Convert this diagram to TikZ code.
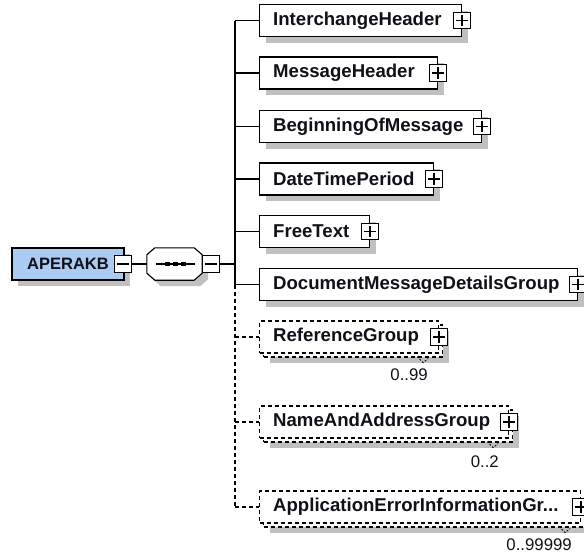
\documentclass[tikz,border=0pt]{standalone}
\usepackage{fontspec}
\setmainfont{Liberation Sans}
\usetikzlibrary{shadows}
\definecolor{rootblue}{HTML}{ABCBF3}
\definecolor{shadowgray}{HTML}{C0C0C0}
\definecolor{txt}{HTML}{101018}
\newcommand\octpathseq{([xshift=8pt]seq.north west) -- ([xshift=-8pt]seq.north east) -- ([yshift=-7pt]seq.north east) -- ([yshift=7pt]seq.south east) -- ([xshift=-8pt]seq.south east) -- ([xshift=8pt]seq.south west) -- ([yshift=7pt]seq.south west) -- ([yshift=-7pt]seq.north west) -- cycle}
\tikzset{
  sh/.style={drop shadow={shadow xshift=6pt, shadow yshift=-6pt, fill=shadowgray, opacity=1}},
  boxline/.style={draw=black, line width=1.1pt},
  optdash/.style={dash pattern=on 4pt off 3pt},
  elem/.style={boxline, fill=white, minimum height=32pt, inner sep=0pt, anchor=west, minimum width=#1},
  lbl/.style={anchor=west, inner sep=0pt, text=txt, font=\fontsize{18.6}{20}\selectfont\bfseries},
  card/.style={anchor=east, inner sep=0pt, text=txt, font=\fontsize{16.8}{18}\selectfont},
  expbox/.style={draw=black, fill=white, line width=1.2pt, minimum size=16.5pt, inner sep=0pt},
  plusbox/.style={expbox, path picture={
      \draw[line width=1.3pt] ([xshift=2.5pt]path picture bounding box.west) -- ([xshift=-2.5pt]path picture bounding box.east);
      \draw[line width=1.3pt] ([yshift=-2.5pt]path picture bounding box.north) -- ([yshift=2.5pt]path picture bounding box.south);}},
  minusbox/.style={expbox, path picture={
      \draw[line width=1.3pt] ([xshift=2.5pt]path picture bounding box.west) -- ([xshift=-2.5pt]path picture bounding box.east);}},
  conn/.style={draw=black, line width=1.1pt},
  notch/.style={draw=black, line width=0.8pt, dash pattern=on 2pt off 1.5pt},
}
\begin{document}
\begin{tikzpicture}[x=1pt,y=-1pt]
\useasboundingbox (0,0) rectangle (584,555);
\clip (0,0) rectangle (584,555);

% root element
\node[boxline, fill=rootblue, sh, minimum width=112pt, minimum height=32pt, inner sep=0pt,
      text=txt, font=\fontsize{16.5}{18}\selectfont\bfseries] (root) at (68,264) {APERAKB};
\node[minusbox] (rootX) at (123,264) {};

% sequence compositor (octagon)
\node[minimum width=55pt, minimum height=32pt, inner sep=0pt] (seq) at (174.5,264) {};
\begin{scope}[transform canvas={shift={(6pt,-6pt)}}]
  \fill[shadowgray] \octpathseq;
\end{scope}
\draw[boxline, fill=white] \octpathseq;
\draw[line width=1.2pt] ([xshift=-19pt]seq.center) -- ([xshift=20pt]seq.center);
\foreach \dx in {-7,1,9}{
  \fill[black] ([xshift=\dx pt]seq.center) +(-2.5pt,-2.3pt) rectangle +(2.5pt,2.3pt);
}
\node[minusbox] (seqX) at (211,264) {};

% bus
\coordinate (vtop) at (235,20.5);
\coordinate (vmid) at (235,284.5);
\coordinate (vbot) at (235,507);

% mandatory children
\node[elem=202pt, sh] (ih) at (259,20.5) {};
\node[lbl] (ihT) at ([xshift=14pt]ih.west) {InterchangeHeader};
\node[plusbox] (ihX) at (ih.east) {};

\node[elem=178pt, sh] (mh) at (259,73) {};
\node[lbl] (mhT) at ([xshift=14pt]mh.west) {MessageHeader};
\node[plusbox] (mhX) at (mh.east) {};

\node[elem=222pt, sh] (bom) at (259,126.5) {};
\node[lbl] (bomT) at ([xshift=14pt]bom.west) {BeginningOfMessage};
\node[plusbox] (bomX) at (bom.east) {};

\node[elem=174pt, sh] (dtp) at (259,179) {};
\node[lbl] (dtpT) at ([xshift=14pt]dtp.west) {DateTimePeriod};
\node[plusbox] (dtpX) at (dtp.east) {};

\node[elem=110pt, sh] (ft) at (259,231.5) {};
\node[lbl] (ftT) at ([xshift=14pt]ft.west) {FreeText};
\node[plusbox] (ftX) at (ft.east) {};

\node[elem=318pt, sh] (dm) at (259,284.5) {};
\node[lbl] (dmT) at ([xshift=14pt]dm.west) {DocumentMessageDetailsGroup};
\node[plusbox] (dmX) at (dm.east) {};

% optional, repeating children
\node[elem=179pt, optdash, sh] (rgB) at (263,341) {};
\node[elem=179pt, optdash] (rg) at (259,337) {};
\node[lbl] (rgT) at ([xshift=14pt]rg.west) {ReferenceGroup};
\node[plusbox] (rgX) at (rg.east) {};
\node[card] (rgC) at (428,375) {0..99};
\draw[notch] ([xshift=-26pt,yshift=1pt]rgB.south east) -- ([xshift=-20pt,yshift=-5pt]rgB.south east) -- ([xshift=-15pt,yshift=-1pt]rgB.south east);

\node[elem=249pt, optdash, sh] (na) at (263,426) {};
\node[elem=249pt, optdash] (naF) at (259,422) {};
\node[lbl] (naT) at ([xshift=14pt]naF.west) {NameAndAddressGroup};
\node[plusbox] (naX) at (naF.east) {};
\node[card] (naC) at (499,462) {0..2};
\draw[notch] ([xshift=-26pt,yshift=1pt]na.south east) -- ([xshift=-20pt,yshift=-5pt]na.south east) -- ([xshift=-15pt,yshift=-1pt]na.south east);

\node[elem=321pt, optdash, sh] (ae) at (263,511) {};
\node[elem=321pt, optdash] (aeF) at (259,507) {};
\node[lbl] (aeT) at ([xshift=14pt]aeF.west) {ApplicationErrorInformationGr...};
\node[plusbox] (aeX) at (aeF.east) {};
\node[card] (aeC) at (572,545) {0..99999};
\draw[notch] ([xshift=-26pt,yshift=1pt]ae.south east) -- ([xshift=-20pt,yshift=-5pt]ae.south east) -- ([xshift=-15pt,yshift=-1pt]ae.south east);

% connectors
\draw[conn] (rootX.east) -- (seq.west);
\draw[conn] (seqX.east) -- (seqX.east -| vtop);
\draw[conn] (vtop) -- (vmid);
\draw[conn, optdash] (vmid) -- (vbot);
\draw[conn] (vtop |- ih.west) -- (ih.west);
\draw[conn] (vtop |- mh.west) -- (mh.west);
\draw[conn] (vtop |- bom.west) -- (bom.west);
\draw[conn] (vtop |- dtp.west) -- (dtp.west);
\draw[conn] (vtop |- ft.west) -- (ft.west);
\draw[conn] (vtop |- dm.west) -- (dm.west);
\draw[conn, optdash] (vtop |- rg.west) -- (rg.west);
\draw[conn, optdash] (vtop |- naF.west) -- (naF.west);
\draw[conn, optdash] (vtop |- aeF.west) -- (aeF.west);
\end{tikzpicture}
\end{document}
